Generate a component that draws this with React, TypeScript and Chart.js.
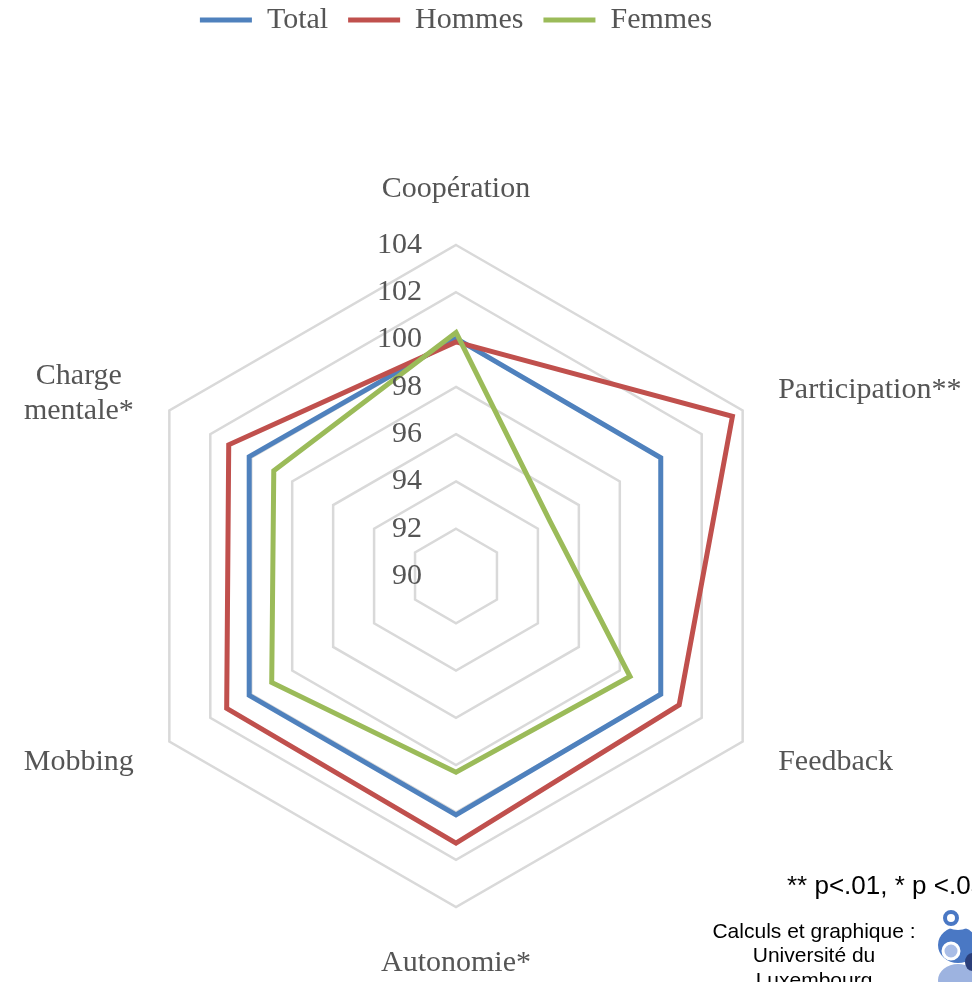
import React, { useEffect, useRef } from 'react';
import { Chart, registerables } from 'chart.js';

Chart.register(...registerables);

// ---- data ----
const categories: (string | string[])[] = [
  'Coopération',
  'Participation**',
  'Feedback',
  'Autonomie*',
  'Mobbing',
  ['Charge', 'mentale*'],
];
const seriesNames = ['Total', 'Hommes', 'Femmes'];
const totalValues = [100.05, 100.0, 100.0, 100.1, 100.1, 100.1];
const hommesValues = [99.9, 103.5, 100.9, 101.3, 101.2, 101.1];
const femmesValues = [100.3, 94.6, 98.5, 98.3, 99.0, 98.9];
const axisMin = 90;
const axisMax = 104;
const axisStep = 2;
const noteText = '** p<.01, * p <.05';
const creditLines = ['Calculs et graphique :', 'Université du', 'Luxembourg'];

const COLORS = ['#4f81bd', '#c0504d', '#9bbb59'];
const TEXT_GRAY = '#555555';
const SERIF = '"Liberation Serif", "Times New Roman", serif';
const SANS = '"Liberation Sans", Arial, sans-serif';

const legendGapPlugin = {
  id: 'legendGap',
  beforeLayout(chart: any) {
    const lg = chart.legend;
    if (!lg || lg.__patched) return;
    const orig = lg.fit;
    lg.fit = function () {
      orig.call(this);
      this.height = 260;
    };
    lg.__patched = true;
  },
};

const labelsPlugin = {
  id: 'customLabels',
  afterDraw(chart: any) {
    const scale = chart.scales.r;
    const ctx: CanvasRenderingContext2D = chart.ctx;
    const R = scale.drawingArea;
    ctx.save();
    ctx.fillStyle = TEXT_GRAY;
    ctx.font = `30px ${SERIF}`;

    // tick labels, left of the vertical axis
    ctx.textAlign = 'right';
    ctx.textBaseline = 'middle';
    scale.ticks.forEach((t: any) => {
      const d = scale.getDistanceFromCenterForValue(t.value);
      ctx.fillText(String(t.label ?? t.value), scale.xCenter - 34, scale.yCenter - d);
    });

    // point labels
    (chart.data.labels as (string | string[])[]).forEach((lab, i) => {
      const lines = Array.isArray(lab) ? lab : [lab];
      const probe = scale.getPointPosition(i, R);
      const dx = probe.x - scale.xCenter;
      const lineH = 35;
      if (Math.abs(dx) < 1) {
        const p = scale.getPointPosition(i, R + 56);
        ctx.textAlign = 'center';
        lines.forEach((ln, k) => {
          ctx.fillText(ln, p.x, p.y + (k - (lines.length - 1) / 2) * lineH);
        });
      } else {
        const p = scale.getPointPosition(i, R + 41);
        const blockW = Math.max(...lines.map((ln) => ctx.measureText(ln).width));
        ctx.textAlign = 'center';
        const cx = dx > 0 ? p.x + blockW / 2 : p.x - blockW / 2;
        const shift = lines.length > 1 ? 4 : 0;
        lines.forEach((ln, k) => {
          ctx.fillText(ln, cx, p.y + shift + (k - (lines.length - 1) / 2) * lineH);
        });
      }
    });

    // note and credits
    ctx.fillStyle = '#000000';
    ctx.textAlign = 'left';
    ctx.font = `26px ${SANS}`;
    ctx.fillText(noteText, 787, 887);
    ctx.textAlign = 'center';
    ctx.font = `21px ${SANS}`;
    creditLines.forEach((ln, k) => {
      ctx.fillText(ln, 814, 932 + k * 24.5);
    });

    // logo (approximation)
    ctx.fillStyle = '#9db3e0';
    ctx.beginPath();
    ctx.ellipse(958, 980, 20, 16, 0, 0, Math.PI * 2);
    ctx.fill();
    ctx.fillStyle = '#4a78c4';
    ctx.beginPath();
    ctx.ellipse(958, 945, 20, 18, 0, 0, Math.PI * 2);
    ctx.fill();
    ctx.fillStyle = '#ffffff';
    ctx.beginPath();
    ctx.ellipse(958, 924, 12, 6, 0, 0, Math.PI * 2);
    ctx.fill();
    ctx.fillStyle = '#2b3f7a';
    ctx.beginPath();
    ctx.ellipse(972, 962, 7, 9, 0, 0, Math.PI * 2);
    ctx.fill();
    ctx.strokeStyle = '#4a78c4';
    ctx.lineWidth = 4;
    ctx.fillStyle = '#ffffff';
    ctx.beginPath();
    ctx.arc(951, 918, 6, 0, Math.PI * 2);
    ctx.fill();
    ctx.stroke();
    ctx.strokeStyle = '#ffffff';
    ctx.lineWidth = 3;
    ctx.fillStyle = '#a9bde6';
    ctx.beginPath();
    ctx.arc(951, 951, 8, 0, Math.PI * 2);
    ctx.fill();
    ctx.stroke();
    ctx.restore();
  },
};

export default function App() {
  const ref = useRef<HTMLCanvasElement>(null);

  useEffect(() => {
    document.body.style.margin = '0';
    document.body.style.overflow = 'hidden';
    const canvas = ref.current;
    if (!canvas) return;
    const seriesData = [totalValues, hommesValues, femmesValues];
    const chart = new Chart(canvas, {
      type: 'radar',
      data: {
        labels: categories as any,
        datasets: seriesNames.map((name, i) => ({
          label: name,
          data: seriesData[i],
          borderColor: COLORS[i],
          backgroundColor: COLORS[i],
          fill: false,
          borderWidth: 5,
          borderCapStyle: 'round' as const,
          pointRadius: 0,
          pointHoverRadius: 0,
          order: 2 - i,
        })),
      },
      options: {
        responsive: false,
        animation: false,
        events: [],
        layout: { padding: { top: -15, left: 125, right: 185, bottom: 75 } },
        plugins: {
          tooltip: { enabled: false },
          legend: {
            position: 'top',
            labels: {
              color: TEXT_GRAY,
              font: { family: SERIF, size: 30 },
              usePointStyle: true,
              pointStyle: 'line',
              pointStyleWidth: 52,
              padding: 20,
              sort: (a: any, b: any) => a.datasetIndex - b.datasetIndex,
            },
          },
        },
        scales: {
          r: {
            min: axisMin,
            max: axisMax,
            ticks: { stepSize: axisStep, display: false },
            grid: { color: '#d9d9d9', lineWidth: 2.5 },
            angleLines: { display: false },
            pointLabels: { display: false },
          },
        },
      },
      plugins: [legendGapPlugin, labelsPlugin],
    });
    return () => chart.destroy();
  }, []);

  return (
    <div style={{ position: 'absolute', left: 0, top: 0, width: 972, height: 982 }}>
      <canvas ref={ref} width={972} height={982} style={{ display: 'block' }} />
    </div>
  );
}
